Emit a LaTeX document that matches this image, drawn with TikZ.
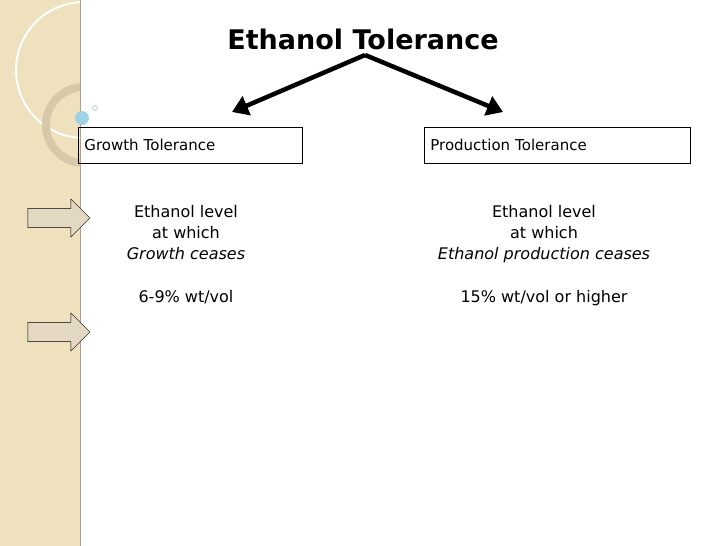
\documentclass[tikz,border=0pt]{standalone}
\usepackage{fontspec}
\setmainfont{DejaVu Sans}
\usetikzlibrary{arrows.meta,shapes.arrows}
\definecolor{strip}{RGB}{239,224,190}
\definecolor{ringc}{RGB}{215,200,170}
\definecolor{bubble}{RGB}{160,210,230}
\tikzset{
  head/.style={draw, line width=0.8pt, minimum height=36pt, text width=#1, inner sep=6pt, anchor=north west, font=\fontsize{15}{17}\selectfont},
  body/.style={align=center, font=\fontsize{16}{21}\selectfont},
  branch/.style={line width=4.5pt, -{Triangle[length=16pt,width=20pt]}},
  sidearrow/.style={single arrow, draw, fill=ringc!70, minimum height=62pt, minimum width=38pt, single arrow head extend=6pt, inner sep=6pt}
}
\begin{document}
\begin{tikzpicture}[x=1pt,y=-1pt]
\useasboundingbox (0,0) rectangle (728,546);
% left strip
\fill[strip] (0,0) rectangle (80,546);
\draw[ringc!80!black, line width=1pt] (80,0) -- (80,546);
\begin{scope}
\clip (0,0) rectangle (80,546);
\draw[white, line width=2pt] (84,70) circle (68);
\draw[ringc, line width=8pt] (84,125) circle (38);
\end{scope}
\fill[bubble] (82,118) circle (7);
\draw[bubble!80!black] (95,108) circle (2.5);
% title and branches
\node[font=\bfseries\fontsize{27}{31}\selectfont] (title) at (363,39) {Ethanol Tolerance};
\coordinate (apex) at (365,55);
\node[head=212pt] (growth) at (78,127) {Growth Tolerance};
\node[head=254pt] (prod) at (424,127) {Production Tolerance};
\draw[branch] (apex) -- (232,112);
\draw[branch] (apex) -- (503,112);
% texts
\node[body, anchor=north] (gtext) at (186,202) {Ethanol level\\at which\\\textit{Growth ceases}\\[22pt]6-9\% wt/vol};
\node[body, anchor=north] (ptext) at (544,202) {Ethanol level\\at which\\\textit{Ethanol production ceases}\\[22pt]15\% wt/vol or higher};
% side arrows
\node[sidearrow] (arrA) at (54,218) {};
\node[sidearrow] (arrB) at (54,332) {};
\end{tikzpicture}
\end{document}
